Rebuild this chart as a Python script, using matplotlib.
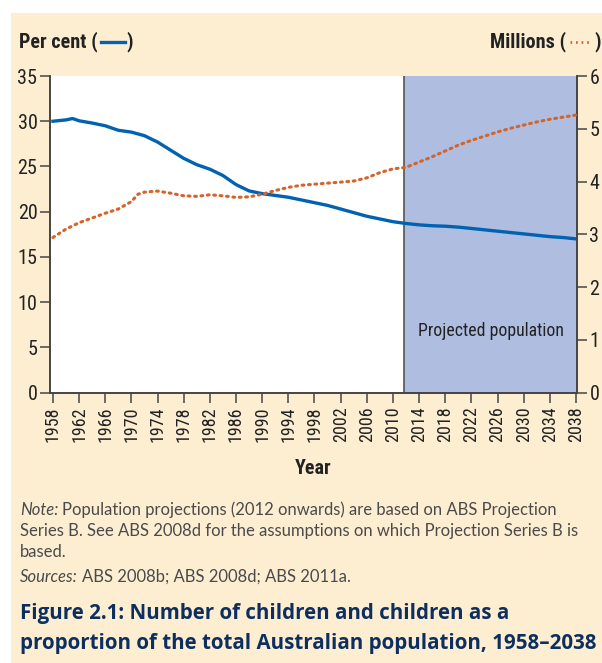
import numpy as np
import matplotlib
matplotlib.use("Agg")
import matplotlib.pyplot as plt
from matplotlib import font_manager as fm
from matplotlib.patches import Rectangle
from matplotlib.lines import Line2D

# children as % of total population
years_pct = [1958, 1960, 1961, 1962, 1964, 1966, 1968, 1970, 1972, 1974, 1976, 1978,
             1980, 1982, 1984, 1986, 1988, 1990, 1992, 1994, 1996, 1998, 2000, 2002,
             2004, 2006, 2008, 2010, 2012, 2014, 2016, 2018, 2020, 2022, 2024, 2026,
             2028, 2030, 2032, 2034, 2036, 2038]
pct = [30.0, 30.15, 30.3, 30.05, 29.8, 29.5, 29.0, 28.8, 28.4, 27.7, 26.8, 25.9,
       25.2, 24.7, 24.0, 23.0, 22.3, 22.0, 21.8, 21.6, 21.3, 21.0, 20.7, 20.3,
       19.9, 19.5, 19.2, 18.9, 18.7, 18.55, 18.45, 18.4, 18.3, 18.15, 18.0, 17.85,
       17.7, 17.55, 17.4, 17.25, 17.15, 17.0]

# number of children (millions)
years_mil = [1958, 1960, 1962, 1964, 1966, 1968, 1970, 1971, 1972, 1974, 1976, 1978,
             1980, 1982, 1984, 1986, 1988, 1990, 1992, 1994, 1996, 1998, 2000, 2002,
             2004, 2006, 2008, 2010, 2012, 2014, 2016, 2018, 2020, 2022, 2024, 2026,
             2028, 2030, 2032, 2034, 2036, 2038]
mil = [2.94, 3.10, 3.22, 3.31, 3.40, 3.48, 3.62, 3.76, 3.80, 3.82, 3.78, 3.73,
       3.72, 3.75, 3.73, 3.70, 3.71, 3.76, 3.83, 3.89, 3.93, 3.95, 3.97, 3.99,
       4.01, 4.07, 4.17, 4.24, 4.27, 4.37, 4.47, 4.58, 4.69, 4.78, 4.86, 4.94,
       5.01, 5.07, 5.13, 5.18, 5.22, 5.26]

xticks = list(range(1958, 2039, 4))
proj_start = 2011.7

BLUE = "#0062b1"
ORANGE = "#d2652c"
CREAM = "#fdeed2"
SHADE = "#aebde0"
NAVY = "#0d2f5f"
DARK = "#222222"
REG = ["Open Sans", "DejaVu Sans"]
NOTEF = ["Lato", "Open Sans", "DejaVu Sans"]

# pick a narrow face if there is one
entries = [(f.name, f.stretch) for f in fm.fontManager.ttflist]
names = {e[0] for e in entries}
COND = None
for cand in ["Liberation Sans Narrow", "Roboto Condensed", "Open Sans Condensed",
             "Noto Sans Condensed", "DejaVu Sans Condensed"]:
    if cand in names:
        COND = dict(family=[cand, "DejaVu Sans"])
        break
if COND is None:
    for fam in ["DejaVu Sans", "Noto Sans", "Roboto", "Open Sans"]:
        if (fam, "condensed") in entries or (fam, "semi-condensed") in entries:
            st = "condensed" if (fam, "condensed") in entries else "semi-condensed"
            COND = dict(family=fam, stretch=st)
            break
if COND is None:
    COND = dict(family=["Roboto", "DejaVu Sans"])

W, H = 602, 663
fig = plt.figure(figsize=(W / 100, H / 100), dpi=100)
fig.patch.set_facecolor("white")
fig.patches.append(Rectangle((11 / W, 0), 1, (H - 13) / H, transform=fig.transFigure,
                             facecolor=CREAM, edgecolor="none", zorder=-10))

def fx(px):
    return px / W

def fy(py):
    return 1 - py / H

ax = fig.add_axes([fx(50), fy(392.7), fx(577) - fx(50), fy(76) - fy(392.7)])
ax.set_facecolor("white")
ax.set_xlim(1957.55, 2038.15)
ax.set_ylim(0, 35)
ax.axvspan(proj_start, 2040, color=SHADE, zorder=0)
ax.axvline(proj_start, color="#555555", lw=1.2, zorder=1)
ax.plot(years_pct, pct, color=BLUE, lw=2.4, zorder=3)

ax2 = ax.twinx()
ax2.set_ylim(0, 6)
ax2.plot(years_mil, mil, color=ORANGE, lw=2.2, linestyle=(0, (0.6, 1.5)),
         dash_capstyle="round", zorder=3)

for a in (ax, ax2):
    a.spines["top"].set_visible(False)
    for s in ("left", "right", "bottom"):
        a.spines[s].set_color("#444444")
        a.spines[s].set_linewidth(1.2)

ax.set_yticks(range(0, 36, 5))
ax2.set_yticks(range(0, 7))
ax.set_xticks(xticks)
ax.set_xticklabels([str(y) for y in xticks], rotation=90, fontsize=13, color=DARK, **COND)
ax.tick_params(axis="x", length=7, width=1.1, color="#444444", pad=3)
ax.tick_params(axis="y", length=7, width=1.1, color="#444444", pad=2)
ax2.tick_params(axis="y", length=7, width=1.1, color="#444444", pad=2)
for lab in ax.get_yticklabels() + ax2.get_yticklabels():
    lab.set_fontproperties(fm.FontProperties(size=14.5, **COND))
    lab.set_color(DARK)

ax.text(2036.1, 6.8, "Projected population", ha="right", va="center",
        fontsize=12.8, color=DARK, **COND)

ax.set_xlabel("Year", fontsize=14.5, fontweight="bold", labelpad=12, color=DARK, **COND)

r = fig.canvas.get_renderer()

def right_px(t):
    return t.get_window_extent(r).x1

def left_px(t):
    return t.get_window_extent(r).x0

hdr = dict(fontsize=14.5, fontweight="bold", va="center", color=DARK, **COND)

# header labels with line keys
t1 = fig.text(fx(19), fy(42), "Per cent (", ha="left", **hdr)
x0 = right_px(t1) + 3
fig.lines.append(Line2D([fx(x0), fx(x0 + 24)], [fy(42), fy(42)], color=BLUE, lw=2.4,
                        transform=fig.transFigure))
fig.text(fx(x0 + 26), fy(42), ")", ha="left", **hdr)

t3 = fig.text(fx(601), fy(42), ")", ha="right", **hdr)
x1 = left_px(t3) - 3
fig.lines.append(Line2D([fx(x1 - 22), fx(x1)], [fy(42), fy(42)], color=ORANGE, lw=2,
                        linestyle=(0, (0.6, 1.4)), transform=fig.transFigure))
fig.text(fx(x1 - 25), fy(42), "Millions (", ha="right", **hdr)

# notes
note = dict(fontsize=12, va="center", ha="left", color="#4a4a4a", family=NOTEF)
tn = fig.text(fx(20), fy(510), "Note:", style="italic", **note)
fig.text(fx(right_px(tn) + 4), fy(510),
         "Population projections (2012 onwards) are based on ABS Projection", **note)
fig.text(fx(20), fy(531),
         "Series B. See ABS 2008d for the assumptions on which Projection Series B is", **note)
fig.text(fx(20), fy(552), "based.", **note)
ts = fig.text(fx(20), fy(577), "Sources:", style="italic", **note)
fig.text(fx(right_px(ts) + 4), fy(577), "ABS 2008b; ABS 2008d; ABS 2011a.", **note)

ttl = dict(fontsize=14.8, fontweight="bold", va="center", ha="left", color=NAVY, family=REG)
fig.text(fx(20), fy(613), "Figure 2.1: Number of children and children as a", **ttl)
fig.text(fx(20), fy(643), "proportion of the total Australian population, 1958\u20132038", **ttl)

fig.savefig("out.png", dpi=100, facecolor=fig.get_facecolor())
